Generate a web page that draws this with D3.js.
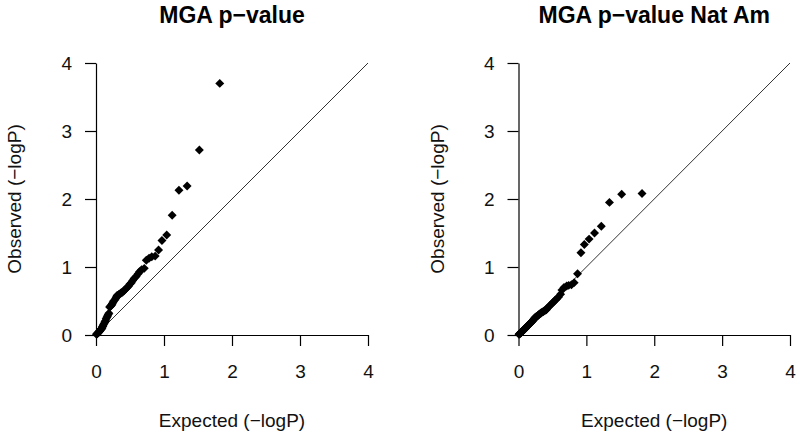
<!DOCTYPE html>
<html>
<head>
<meta charset="utf-8">
<script src="https://cdnjs.cloudflare.com/ajax/libs/d3/7.8.5/d3.min.js"></script>
<style>
  body { margin: 0; background: #fff; }
  svg { display: block; font-family: "Liberation Sans", Arial, sans-serif; }
  .axis path, .axis line { stroke: #000; stroke-width: 1.2; }
  .axis text { font-size: 19px; fill: #111; }
</style>
</head>
<body>
<script>
// expected -logP (same ranks in both panels)
var expected = [1.82, 1.52, 1.34, 1.22, 1.12, 1.04, 0.97, 0.92, 0.87, 0.82,
                0.78, 0.74, 0.71, 0.67, 0.64, 0.62, 0.59, 0.56, 0.54, 0.52,
                0.50, 0.48, 0.46, 0.44, 0.42, 0.41, 0.39, 0.37, 0.36, 0.34,
                0.33, 0.31, 0.30, 0.29, 0.28, 0.26, 0.25, 0.24, 0.23, 0.22,
                0.21, 0.20, 0.19, 0.18, 0.17, 0.16, 0.15, 0.14, 0.13, 0.12,
                0.11, 0.10, 0.095, 0.087, 0.079, 0.071, 0.063, 0.056, 0.048, 0.041,
                0.034, 0.027, 0.020, 0.013, 0.007];

// observed -logP, MGA p-value
var observedAll = [3.70, 2.72, 2.19, 2.13, 1.76, 1.47, 1.39, 1.25, 1.16, 1.15,
                   1.13, 1.10, 0.98, 0.96, 0.93, 0.90, 0.86, 0.83, 0.80, 0.77,
                   0.75, 0.72, 0.70, 0.68, 0.66, 0.65, 0.63, 0.62, 0.61, 0.60,
                   0.59, 0.58, 0.56, 0.54, 0.52, 0.50, 0.48, 0.46, 0.44, 0.43,
                   0.42, 0.41, 0.32, 0.30, 0.28, 0.26, 0.24, 0.21, 0.19, 0.17,
                   0.15, 0.13, 0.12, 0.10, 0.09, 0.08, 0.07, 0.06, 0.05, 0.04,
                   0.035, 0.03, 0.02, 0.015, 0.01];

// observed -logP, MGA p-value Nat Am
var observedNatAm = [2.08, 2.07, 1.95, 1.60, 1.50, 1.41, 1.33, 1.21, 0.90, 0.77,
                     0.74, 0.73, 0.72, 0.70, 0.66, 0.60, 0.56, 0.53, 0.51, 0.49,
                     0.47, 0.45, 0.43, 0.41, 0.39, 0.37, 0.36, 0.35, 0.34, 0.33,
                     0.32, 0.31, 0.30, 0.29, 0.28, 0.27, 0.26, 0.25, 0.24, 0.22,
                     0.21, 0.20, 0.19, 0.18, 0.17, 0.16, 0.15, 0.14, 0.13, 0.12,
                     0.11, 0.10, 0.09, 0.085, 0.08, 0.07, 0.06, 0.055, 0.05, 0.04,
                     0.03, 0.025, 0.02, 0.015, 0.01];

var tickValues = [0, 1, 2, 3, 4];
var titles = ['MGA p\u2212value', 'MGA p\u2212value Nat Am'];
var xLabel = 'Expected (\u2212logP)';
var yLabel = 'Observed (\u2212logP)';

var screen = { width: 800, height: 436 };

var svg = d3.select('body')
            .append('svg')
            .attr('width', screen.width)
            .attr('height', screen.height);

function drawPanel(left, right, observed, title, idx){
  var top = 63, bottom = 335;
  var xScale = d3.scaleLinear().domain([0, 4]).range([left, right]);
  var yScale = d3.scaleLinear().domain([0, 4]).range([bottom, top]);

  var g = svg.append('g');

  svg.append('clipPath')
     .attr('id', 'clip' + idx)
     .append('rect')
     .attr('x', left).attr('y', top)
     .attr('width', right - left).attr('height', bottom - top);

  // reference line y = x
  g.append('line')
   .attr('clip-path', 'url(#clip' + idx + ')')
   .attr('x1', xScale(0)).attr('y1', yScale(0))
   .attr('x2', xScale(4)).attr('y2', yScale(4))
   .attr('stroke', '#333')
   .attr('stroke-width', 1);

  g.append('g')
   .classed('axis', true)
   .attr('transform', 'translate(0,' + bottom + ')')
   .call(d3.axisBottom(xScale).tickValues(tickValues).tickFormat(d3.format('d'))
           .tickSize(11).tickSizeOuter(0).tickPadding(19))

  g.append('g')
   .classed('axis', true)
   .attr('transform', 'translate(' + left + ',0)')
   .call(d3.axisLeft(yScale).tickValues(tickValues).tickFormat(d3.format('d'))
           .tickSize(11).tickSizeOuter(0).tickPadding(13))

  var symbol = d3.symbol().type(d3.symbolSquare).size(40);

  g.append('g')
   .selectAll('path')
   .data(observed)
   .enter()
   .append('path')
   .attr('d', symbol)
   .attr('fill', '#000')
   .attr('transform', function(d, i){
     return 'translate(' + xScale(expected[i]) + ',' + yScale(d) + ') rotate(45)';
   });

  var cx = (left + right) / 2;
  g.append('text')
   .attr('x', cx)
   .attr('y', 22.5)
   .attr('text-anchor', 'middle')
   .style('font-size', '23px')
   .style('font-weight', 'bold')
   .text(title);

  g.append('text')
   .attr('x', cx)
   .attr('y', 427)
   .attr('text-anchor', 'middle')
   .style('font-size', '19px')
   .attr('fill', '#111')
   .text(xLabel);

  g.append('text')
   .attr('transform', 'translate(' + (left - 75) + ',' + ((top + bottom) / 2) + ') rotate(-90)')
   .attr('text-anchor', 'middle')
   .style('font-size', '19px')
   .attr('fill', '#111')
   .text(yLabel);
}

drawPanel(96, 368, observedAll, titles[0], 0);
drawPanel(518.5, 790, observedNatAm, titles[1], 1);
</script>
</body>
</html>
